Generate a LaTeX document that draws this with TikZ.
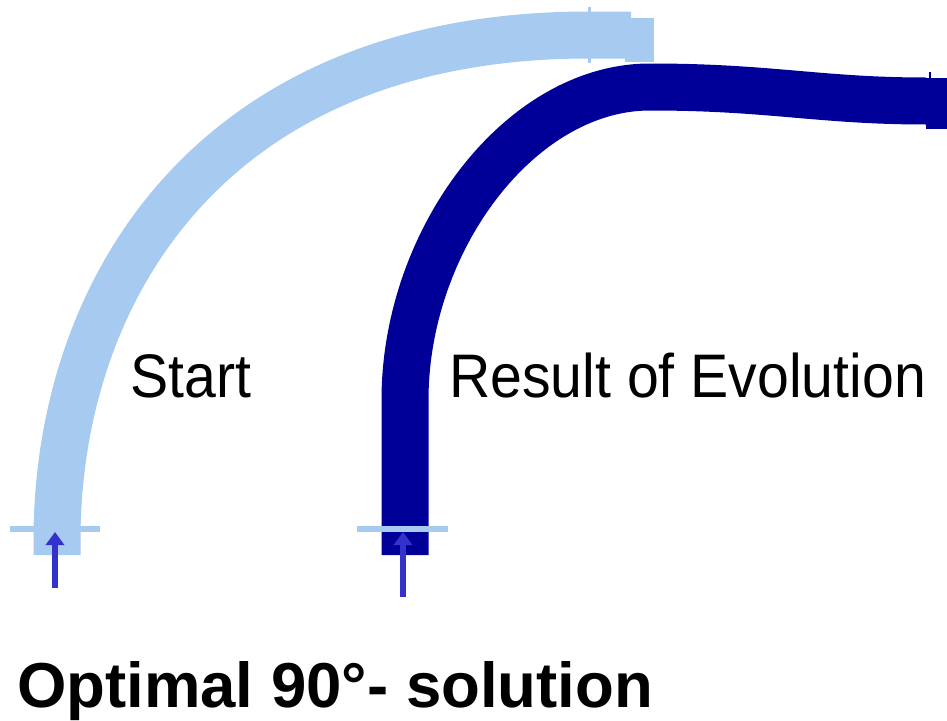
\documentclass[tikz,border=0pt]{standalone}
\usepackage{fontspec}
\setmainfont{Liberation Sans}
\newfontfamily\narrowsans[FakeStretch=0.93]{Liberation Sans}
\usetikzlibrary{arrows.meta}
\definecolor{lightpipe}{RGB}{166,202,240}
\definecolor{darkpipe}{RGB}{0,0,153}
\definecolor{arrowblue}{RGB}{51,51,204}
\tikzset{
  pipe/.style={line width=47pt, line cap=butt},
  tickmark/.style={draw=lightpipe, line width=5.5pt},
  inflow/.style={draw=arrowblue, line width=6pt, -{Triangle[width=18pt,length=13pt]}},
  pipetext/.style={font=\narrowsans\fontsize{61.5}{62}\selectfont, inner sep=0pt, anchor=base west},
  titletext/.style={font=\bfseries\fontsize{63.5}{64}\selectfont, inner sep=0pt, anchor=base west},
}
\begin{document}
\begin{tikzpicture}[x=1pt,y=-1pt]
\useasboundingbox (0,0) rectangle (947,720);
% light (start) pipe
\draw[pipe, draw=lightpipe] (57,555) -- (57,540) .. controls (57,293) and (208,35) .. (589,35) -- (631,35);
\fill[lightpipe] (625,18) rectangle (654,62);
\draw[lightpipe, line width=3pt] (589,7) -- (589,63);
% dark (evolved) pipe
\draw[pipe, draw=darkpipe] (405,555) -- (405,400) .. controls (405,240) and (520,87) .. (650,87) .. controls (770,87) and (820,101) .. (926,101);
\fill[darkpipe] (926,78) rectangle (947,129);
\draw[darkpipe, line width=2pt] (930,72) -- (930,79);
% ticks
\draw[tickmark] (10,529) -- (100,529);
\draw[tickmark] (357,529) -- (448,529);
% inflow arrows
\coordinate (a1s) at (55,588);
\coordinate (a1e) at (55,532);
\coordinate (a2s) at (403,597);
\coordinate (a2e) at (403,532);
\draw[inflow] (a1s) -- (a1e);
\draw[inflow] (a2s) -- (a2e);
% texts
\node[pipetext] (start) at (130,397) {Start};
\node[pipetext] (result) at (449,397) {Result of Evolution};
\node[titletext] (title) at (17,707) {Optimal 90°- solution};
\end{tikzpicture}
\end{document}
